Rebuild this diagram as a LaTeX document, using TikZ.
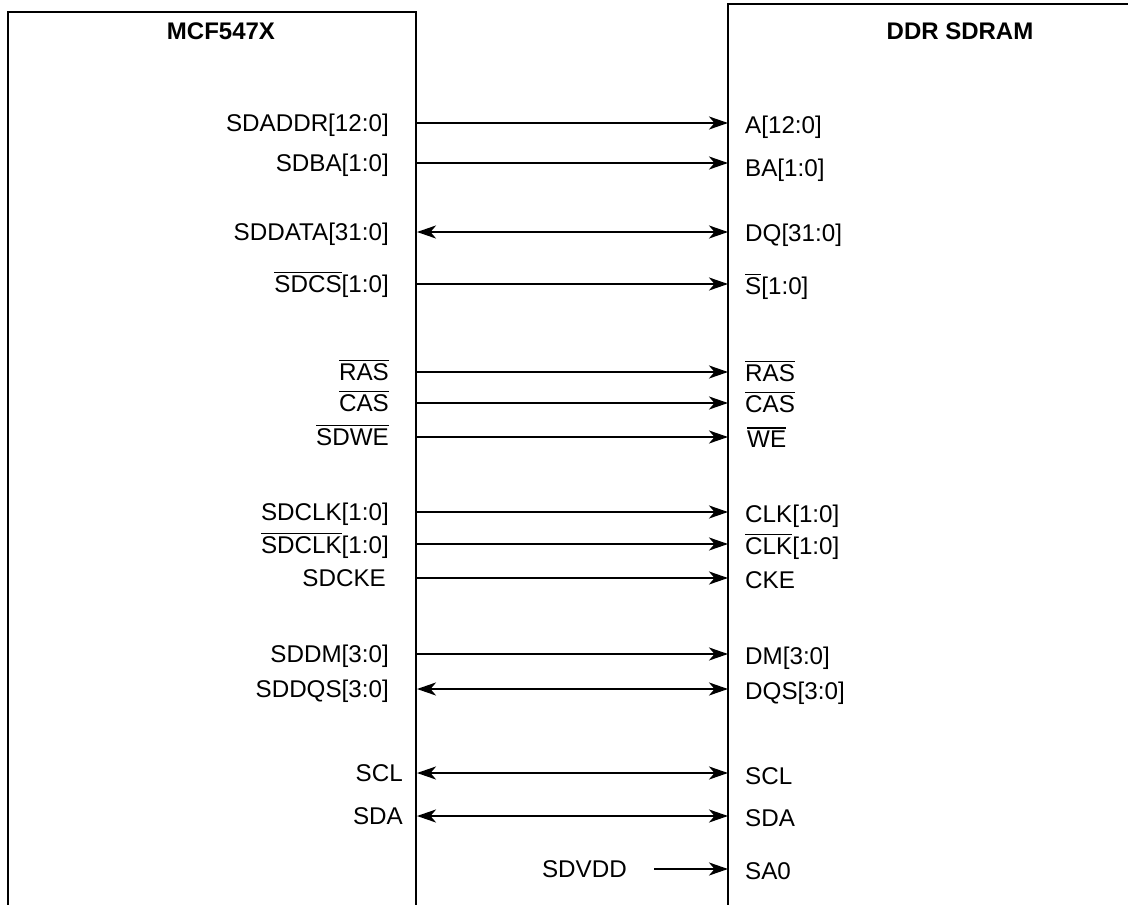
\documentclass[tikz,border=0pt]{standalone}
\usepackage{fontspec}
\setmainfont{Liberation Sans}
\usetikzlibrary{arrows.meta}
\newcommand\ovbar[1]{\leavevmode\vbox{\hrule height 1.6pt\kern 2.6pt\hbox{#1}}}
\begin{document}
\begin{tikzpicture}[x=1pt,y=-1pt,
  boxline/.style={line width=2.4pt},
  tip/.tip={Stealth[length=19pt,width=13pt,inset=5.5pt]},
  sig/.style={line width=2.2pt,-tip},
  bisig/.style={line width=2.2pt,tip-tip},
  lab/.style={inner sep=0pt,font=\fontsize{24.2}{29}\selectfont,text height=17.5pt,text depth=0pt},
  llab/.style={lab,anchor=east},
  rlab/.style={lab,anchor=west},
  title/.style={lab,font=\fontsize{24}{29}\selectfont\bfseries}]
\useasboundingbox (0,0) rectangle (1128,905);
% boxes
\draw[boxline] (8,910) -- (8,12) -- (416,12) -- (416,910);
\draw[boxline] (728,910) -- (728,4) -- (1135,4);
\node[title] (t1) at (221,31) {MCF547X};
\node[title] (t2) at (960,31) {DDR SDRAM};
% left labels
\node[llab] (l1) at (389,123) {SDADDR[12:0]};
\node[llab] (l2) at (389,163) {SDBA[1:0]};
\node[llab] (l3) at (389,232) {SDDATA[31:0]};
\node[llab] (l4) at (389,284) {\ovbar{SDCS}[1:0]};
\node[llab] (l5) at (389,372) {\ovbar{RAS}};
\node[llab] (l6) at (389,403) {\ovbar{CAS}};
\node[llab] (l7) at (389,437) {\ovbar{SDWE}};
\node[llab] (l8) at (389,512) {SDCLK[1:0]};
\node[llab] (l9) at (389,545) {\ovbar{SDCLK}[1:0]};
\node[llab] (l10) at (386,578) {SDCKE};
\node[llab] (l11) at (389,654) {SDDM[3:0]};
\node[llab] (l12) at (389,689) {SDDQS[3:0]};
\node[llab] (l13) at (403,773) {SCL};
\node[llab] (l14) at (403,816) {SDA};
\node[llab] (l15) at (627,869) {SDVDD};
% right labels
\node[rlab] (r1) at (745,125) {A[12:0]};
\node[rlab] (r2) at (745,168) {BA[1:0]};
\node[rlab] (r3) at (745,233) {DQ[31:0]};
\node[rlab] (r4) at (745,286) {\ovbar{S}[1:0]};
\node[rlab] (r5) at (745,373) {\ovbar{RAS}};
\node[rlab] (r6) at (745,404) {\ovbar{CAS}};
\node[rlab] (r7) at (747,439) {\ovbar{WE}};
\node[rlab] (r8) at (745,514) {CLK[1:0]};
\node[rlab] (r9) at (745,546) {\ovbar{CLK}[1:0]};
\node[rlab] (r10) at (745,580) {CKE};
\node[rlab] (r11) at (745,656) {DM[3:0]};
\node[rlab] (r12) at (745,691) {DQS[3:0]};
\node[rlab] (r13) at (745,776) {SCL};
\node[rlab] (r14) at (745,818) {SDA};
\node[rlab] (r15) at (745,871) {SA0};
% connector ends
\foreach \i/\y in {1/123,2/163,3/232,4/284,5/372,6/403,7/437,8/512,9/544,10/578,11/654,12/689,13/773,14/816}{
  \coordinate (a\i) at (417,\y);
  \coordinate (b\i) at (728,\y);
}
\coordinate (a15) at (654,869);
\coordinate (b15) at (728,869);
\foreach \i in {1,2,4,5,6,7,8,9,10,11,15}{\draw[sig] (a\i) -- (b\i);}
\foreach \i in {3,12,13,14}{\draw[bisig] (a\i) -- (b\i);}
\end{tikzpicture}
\end{document}
